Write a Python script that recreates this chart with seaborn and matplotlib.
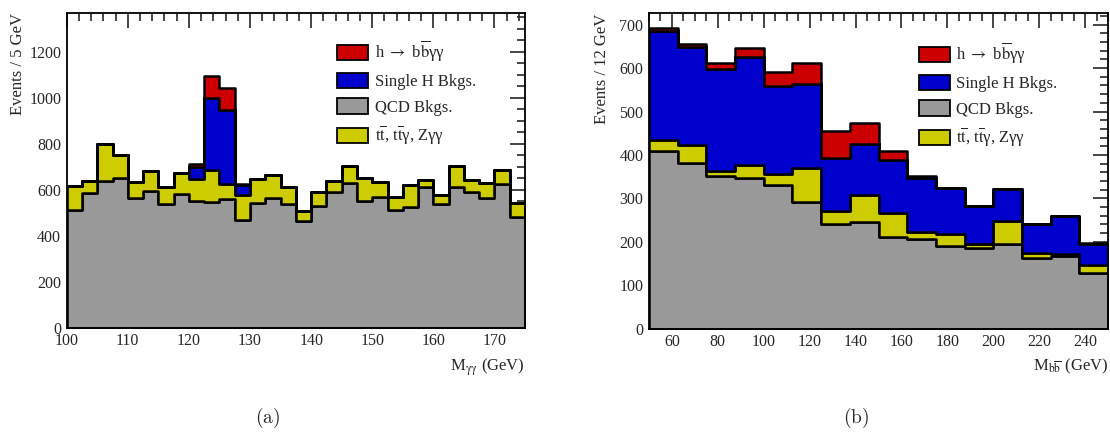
import numpy as np
import pandas as pd
import matplotlib
matplotlib.use("Agg")
import matplotlib.pyplot as plt
from matplotlib.patches import Patch
from matplotlib.ticker import MultipleLocator
import seaborn as sns

# processes (legend order) and colours
processes = ["signal", "singleh", "qcd", "ttbar"]
labels = [r"h $\rightarrow$ b$\overline{\mathrm{b}}$γγ", "Single H Bkgs.", "QCD Bkgs.",
          r"t$\overline{\mathrm{t}}$, t$\overline{\mathrm{t}}$γ, Zγγ"]
colors = {"signal": "#cc0000", "singleh": "#0000cc", "qcd": "#999999", "ttbar": "#cccc00"}
# first level drawn on top of the stack
stack_order = ["signal", "singleh", "ttbar", "qcd"]

# (a) diphoton mass, 2.5 GeV bins from 100 to 175
edges_a = list(np.arange(100, 175.1, 2.5))
qcd_a = [514, 584, 637, 652, 562, 596, 540, 581, 553, 548, 559, 467, 543, 562, 539,
         462, 530, 591, 630, 552, 567, 514, 526, 613, 540, 610, 590, 562, 625, 483]
ttbar_a = [103, 53, 162, 98, 73, 86, 73, 93, 92, 137, 64, 110, 102, 100, 74,
           47, 58, 46, 73, 100, 68, 55, 94, 29, 35, 93, 52, 68, 60, 60]
singleh_a = [0, 0, 0, 0, 0, 0, 0, 0, 55, 315, 324, 43, 0, 0, 0,
             0, 0, 0, 0, 0, 0, 0, 0, 0, 0, 0, 0, 0, 0, 0]
signal_a = [0, 0, 0, 0, 0, 0, 0, 0, 14, 95, 94, 7, 0, 0, 0,
            0, 0, 0, 0, 0, 0, 0, 0, 0, 0, 0, 0, 0, 0, 0]

# (b) b-bbar mass, 12.5 GeV bins from 50 to 250
edges_b = list(np.arange(50, 250.1, 12.5))
qcd_b = [409, 382, 351, 346, 331, 291, 242, 246, 212, 206, 190, 186, 196, 162, 168, 129]
ttbar_b = [25, 40, 13, 32, 24, 80, 29, 61, 54, 16, 27, 9, 52, 13, 4, 18]
singleh_b = [252, 226, 234, 247, 204, 192, 123, 118, 123, 124, 107, 87, 74, 65, 87, 49]
signal_b = [6, 8, 13, 22, 32, 48, 60, 49, 21, 5, 1, 0, 0, 0, 0, 2]


def make_df(edges, qcd, ttbar, singleh, signal):
    e = np.array(edges)
    centers = (e[:-1] + e[1:]) / 2
    parts = []
    for name, vals in [("qcd", qcd), ("ttbar", ttbar), ("singleh", singleh), ("signal", signal)]:
        parts.append(pd.DataFrame({"mass": centers, "events": vals, "process": name}))
    return pd.concat(parts, ignore_index=True)


sns.set_style("white")
plt.rcParams["font.family"] = ["Liberation Serif", "DejaVu Serif"]
plt.rcParams["mathtext.fontset"] = "stix"

fig = plt.figure(figsize=(11.1, 4.34), dpi=100)
ax_a = fig.add_axes([0.0601, 0.2449, 0.4129, 0.7244])
ax_b = fig.add_axes([0.5847, 0.2426, 0.4135, 0.7267])

panels = [
    (ax_a, make_df(edges_a, qcd_a, ttbar_a, singleh_a, signal_a), edges_a, (100, 175), 1367,
     10, 2, 200, 50, "Events / 5 GeV", r"M$_{\mathrm{\gamma\gamma}}$ (GeV)", 0.59, 0.918, -0.088),
    (ax_b, make_df(edges_b, qcd_b, ttbar_b, singleh_b, signal_b), edges_b, (50, 250), 726,
     20, 5, 100, 20, "Events / 12 GeV", r"M$_{\mathrm{b\overline{b}}}$ (GeV)", 0.588, 0.912, -0.086),
]

for ax, df, edges, xlim, ymax, xmaj, xmin, ymaj, ymin, ylab, xlab, lx, ly, ylx in panels:
    sns.histplot(data=df, x="mass", weights="events", hue="process", hue_order=stack_order,
                 multiple="stack", bins=edges, element="step", palette=colors, alpha=1,
                 edgecolor="black", linewidth=1.8, legend=False, ax=ax)
    ax.set_xlim(*xlim)
    ax.set_ylim(0, ymax)
    ax.xaxis.set_major_locator(MultipleLocator(xmaj))
    ax.xaxis.set_minor_locator(MultipleLocator(xmin))
    ax.yaxis.set_major_locator(MultipleLocator(ymaj))
    ax.yaxis.set_minor_locator(MultipleLocator(ymin))
    ax.tick_params(which="both", direction="in", top=True, right=True, labelsize=11.5, width=1.2)
    ax.tick_params(which="major", length=11, pad=4)
    ax.tick_params(which="minor", length=5.5)
    for sp in ax.spines.values():
        sp.set_linewidth(1.3)
        sp.set_color("black")
    ax.set_ylabel(ylab, fontsize=12, loc="top")
    ax.yaxis.set_label_coords(ylx, 1.0)
    ax.set_xlabel(xlab, fontsize=12, loc="right", labelpad=5)
    handles = [Patch(facecolor=colors[p], edgecolor="black", linewidth=1.3) for p in processes]
    ax.legend(handles, labels, loc="upper left", bbox_to_anchor=(lx, ly), frameon=False,
              fontsize=12, handlelength=1.85, handleheight=1.05, handletextpad=0.4,
              labelspacing=0.5, borderaxespad=0, borderpad=0)

fig.text(0.241, 0.025, r"$\mathrm{(a)}$", math_fontfamily="cm", fontsize=14, ha="center")
fig.text(0.771, 0.025, r"$\mathrm{(b)}$", math_fontfamily="cm", fontsize=14, ha="center")

fig.savefig("out.png", dpi=100)
